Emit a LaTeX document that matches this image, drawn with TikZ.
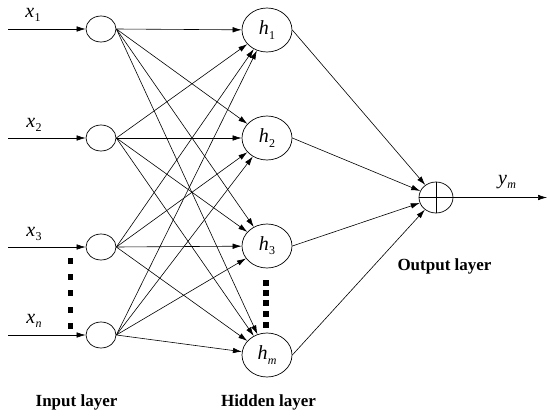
\documentclass[tikz,border=0pt]{standalone}
\usepackage{fontspec}
\setmainfont{Liberation Serif}
\usetikzlibrary{shapes.geometric,arrows.meta}
\newcommand\vsub[2]{\textit{#1}\kern0.3pt\raisebox{-0.45ex}{\fontsize{12}{12}\selectfont #2}}
\tikzset{
  inp/.style={ellipse,draw,line width=0.7pt,minimum width=30pt,minimum height=26pt,inner sep=0pt},
  hid/.style={ellipse,draw,line width=0.7pt,minimum width=50pt,minimum height=44pt,inner sep=0pt,font=\fontsize{20}{20}\selectfont},
  outn/.style={ellipse,draw,line width=0.7pt,minimum width=34pt,minimum height=31pt,inner sep=0pt},
  conn/.style={line width=0.6pt,-{Latex[length=9pt,width=5.5pt]}},
  lbl/.style={font=\fontsize{20}{20}\selectfont},
  layer/.style={font=\fontsize{17}{17}\selectfont\bfseries},
  sq/.style={fill=black,minimum size=5.5pt,inner sep=0pt}
}
\begin{document}
\begin{tikzpicture}[x=1pt,y=-1pt]
\useasboundingbox (0,0) rectangle (550,418);
% input nodes
\node[inp] (i1) at (101,29) {};
\node[inp] (i2) at (101,138) {};
\node[inp] (i3) at (101,247) {};
\node[inp] (i4) at (101,335) {};
% hidden nodes
\node[hid] (h1) at (267,30) {\vsub{h}{1}};
\node[hid] (h2) at (267,138) {\vsub{h}{2}};
\node[hid] (h3) at (267,246) {\vsub{h}{3}};
\node[hid] (h4) at (267,355) {\vsub{h}{\textit{m}}};
% output node
\node[outn] (o) at (436,197.5) {};
\draw[line width=0.7pt] (o.north) -- (o.south) (o.west) -- (o.east);
% input lines
\foreach \i/\y in {1/29,2/138,3/247,4/335}{
  \coordinate (s\i) at (8,\y);
  \draw[conn] (s\i) -- (i\i);
}
% input labels
\node[lbl] (lx1) at (33,15) {\vsub{x}{1}};
\node[lbl] (lx2) at (34,125) {\vsub{x}{2}};
\node[lbl] (lx3) at (34,234) {\vsub{x}{3}};
\node[lbl] (lx4) at (34,321) {\vsub{x}{\textit{n}}};
% input to hidden
\foreach \i in {1,2,3,4}{
  \foreach \j in {1,2,3,4}{
    \draw[conn] (i\i.east) -- (h\j);
  }
}
% hidden to output
\foreach \j in {1,2,3,4}{
  \draw[conn] (h\j.east) -- (o);
}
% output arrow
\coordinate (oe) at (547,197.5);
\draw[conn] (o.east) -- (oe);
\node[lbl] (ym) at (507,182) {\vsub{y}{\textit{m}}};
% dots
\foreach \k/\y in {1/261,2/277,3/293,4/310,5/326}{
  \node[sq] (di\k) at (70.5,\y) {};
}
\foreach \k/\y in {1/283,2/293,3/303,4/314,5/325}{
  \node[sq] (dh\k) at (266,\y) {};
}
% layer labels
\node[layer] (L1) at (76.5,402) {Input layer};
\node[layer] (L2) at (268.5,402) {Hidden layer};
\node[layer] (L3) at (444.5,266) {Output layer};
\end{tikzpicture}
\end{document}
